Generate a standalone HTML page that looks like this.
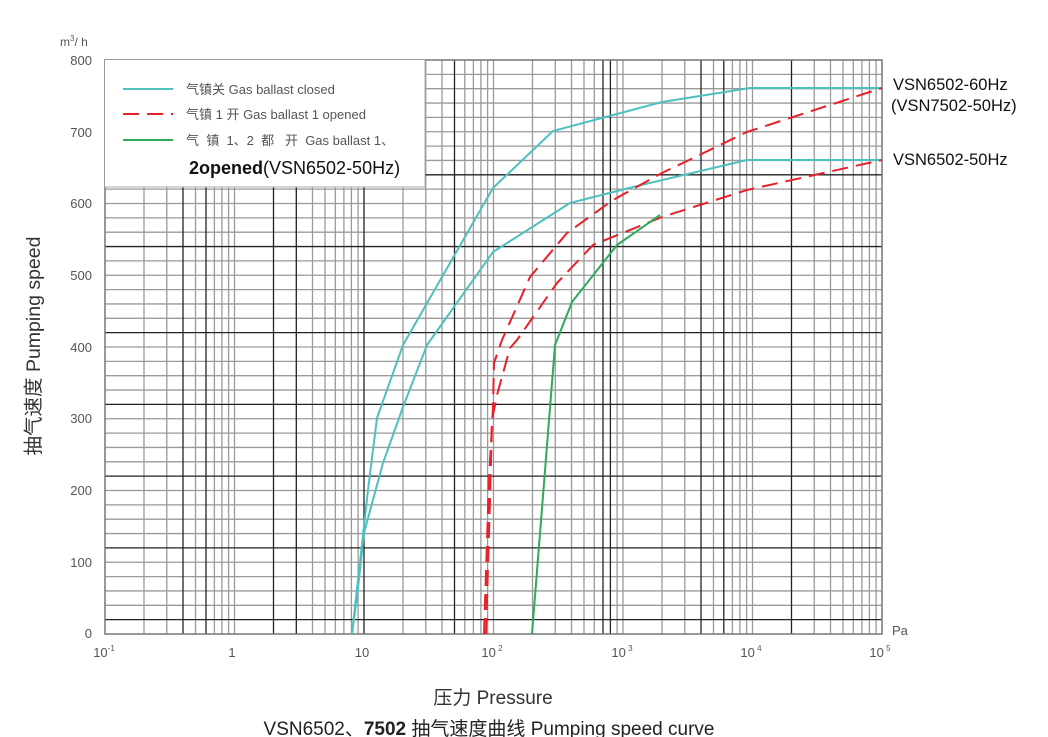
<!DOCTYPE html>
<html><head><meta charset="utf-8"><style>
body{margin:0;background:#fff;width:1048px;height:737px;overflow:hidden}
svg{display:block}
text{font-family:"Liberation Sans","Noto Sans CJK SC",sans-serif}
</style></head><body>
<svg width="1048" height="737" viewBox="0 0 1048 737">
<g stroke="#9a9a9a" stroke-width="1.3" fill="none">
<path d="M144 60V634M166.8 60V634M195.5 60V634M214.4 60V634M221.9 60V634M228.6 60V634M234.5 60V634M312.5 60V634M325 60V634M335.3 60V634M343.9 60V634M351.4 60V634M358.1 60V634M403 60V634M425.8 60V634M442 60V634M464.8 60V634M473.4 60V634M480.9 60V634M487.6 60V634M493.5 60V634M532.5 60V634M555.3 60V634M571.5 60V634M584 60V634M594.3 60V634M617.1 60V634M623 60V634M662 60V634M684.8 60V634M713.5 60V634M732.4 60V634M739.9 60V634M746.6 60V634M752.5 60V634M814.3 60V634M830.5 60V634M843 60V634M853.3 60V634M861.9 60V634M869.4 60V634M876.1 60V634"/>
<path d="M105 74.35H882M105 88.7H882M105 103.05H882M105 117.4H882M105 131.75H882M105 146.1H882M105 160.45H882M105 189.15H882M105 203.5H882M105 217.85H882M105 232.2H882M105 260.9H882M105 275.25H882M105 289.6H882M105 303.95H882M105 318.3H882M105 347H882M105 361.35H882M105 375.7H882M105 390.05H882M105 418.75H882M105 433.1H882M105 447.45H882M105 461.8H882M105 490.5H882M105 504.85H882M105 519.2H882M105 533.55H882M105 562.25H882M105 576.6H882M105 590.95H882M105 605.3H882"/>
</g>
<g stroke="#222" stroke-width="1.3" fill="none">
<path d="M183 60V634M206 60V634M273.5 60V634M296.3 60V634M364 60V634M454.5 60V634M603 60V634M610.4 60V634M701 60V634M723.8 60V634M791.5 60V634"/>
<path d="M105 174.8H882M105 246.55H882M105 332.65H882M105 404.4H882M105 476.15H882M105 547.9H882M105 619.65H882"/>
</g>
<rect x="105" y="60" width="777" height="574" fill="none" stroke="#777" stroke-width="1.5"/>
<rect x="105" y="60" width="320" height="127" fill="#fff"/>
<path d="M105 187H425V60" fill="none" stroke="#aaa" stroke-width="1"/>
<line x1="123" y1="89" x2="173" y2="89" stroke="#4fc0c0" stroke-width="2"/>
<line x1="123" y1="114" x2="173" y2="114" stroke="#e8202a" stroke-width="2" stroke-dasharray="16,8"/>
<line x1="123" y1="140" x2="173" y2="140" stroke="#2eaa5a" stroke-width="2"/>
<g font-size="13" fill="#555">
<text x="186" y="94">气镇关 Gas ballast closed</text>
<text x="186" y="119">气镇 1 开 Gas ballast 1 opened</text>
<text x="186" y="145" xml:space="preserve">气  镇  1、2  都   开  Gas ballast 1、</text>
</g>
<text x="189" y="174" font-size="18" fill="#111" font-weight="bold">2opened<tspan font-weight="normal">(VSN6502-50Hz)</tspan></text>
<g fill="none" stroke-width="2" stroke-linejoin="round">
<polyline stroke="#4fc0c0" points="352,634 368,490 377,418 403,345 493,188 553,131 662,102 750,88 882,88"/>
<polyline stroke="#4fc0c0" points="352,634 357,597 364,533 383,463 403,407 427,345 493,252 570,203 633,187 747,160 882,160"/>
<polyline stroke="#e8202a" stroke-dasharray="16,8" points="484,634 489,480 493,407 494,363 502,340 530,277 567,233 613,200 662,173 747,132 882,88"/>
<polyline stroke="#e8202a" stroke-dasharray="16,8" points="486,634 490,500 492,420 497,395 510,348 517,340 557,283 593,245 662,217 747,190 882,160"/>
<polyline stroke="#2eaa5a" points="532,634 555,345 572,302 617,245 660,215"/>
</g>
<g font-size="13" fill="#555" text-anchor="end">
<text x="92" y="65">800</text><text x="92" y="137">700</text><text x="92" y="208">600</text>
<text x="92" y="280">500</text><text x="92" y="352">400</text><text x="92" y="423">300</text>
<text x="92" y="495">200</text><text x="92" y="567">100</text><text x="92" y="638">0</text>
</g>
<text x="60" y="46" font-size="12" fill="#555">m<tspan font-size="8" dy="-5">3</tspan><tspan dy="5">/ h</tspan></text>
<g font-size="13" fill="#555" text-anchor="middle">
<text x="104" y="657">10<tspan font-size="8" dy="-6">-1</tspan></text>
<text x="232" y="657">1</text>
<text x="362" y="657">10</text>
<text x="492" y="657">10<tspan font-size="8" dy="-6"> 2</tspan></text>
<text x="622" y="657">10<tspan font-size="8" dy="-6"> 3</tspan></text>
<text x="751" y="657">10<tspan font-size="8" dy="-6"> 4</tspan></text>
<text x="880" y="657">10<tspan font-size="8" dy="-6"> 5</tspan></text>
</g>
<text x="892" y="635" font-size="13" fill="#555">Pa</text>
<g font-size="16.5" fill="#111">
<text x="893" y="90">VSN6502-60Hz</text>
<text x="891" y="111">(VSN7502-50Hz)</text>
<text x="893" y="165">VSN6502-50Hz</text>
</g>
<text transform="translate(40,346) rotate(-90)" font-size="19.5" fill="#333" text-anchor="middle">抽气速度 Pumping speed</text>
<text x="493" y="704" font-size="19" fill="#333" text-anchor="middle">压力 Pressure</text>
<text x="489" y="735" font-size="19" fill="#222" text-anchor="middle">VSN6502、<tspan font-weight="bold">7502</tspan> 抽气速度曲线 Pumping speed curve</text>
</svg>
</body></html>
